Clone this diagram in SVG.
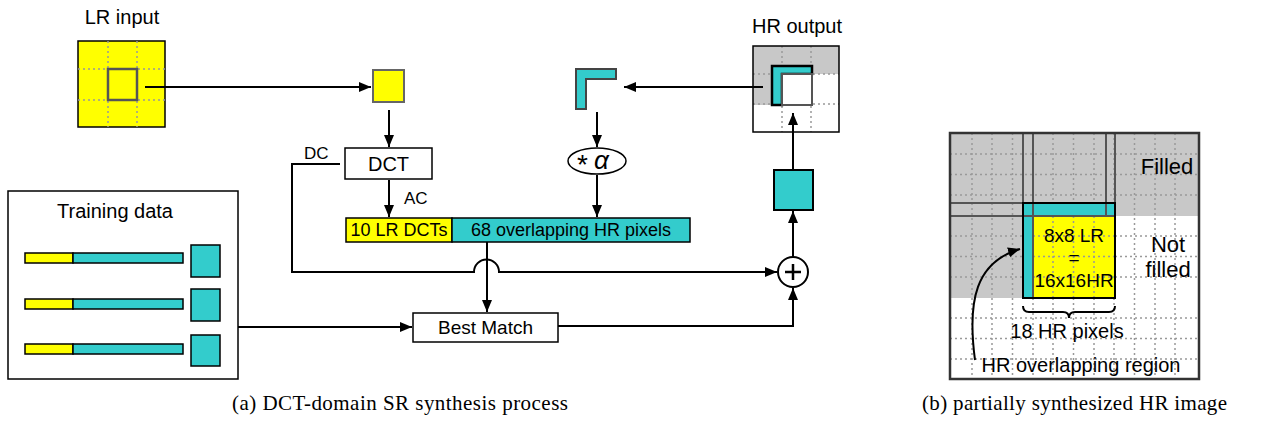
<svg xmlns="http://www.w3.org/2000/svg" width="1264" height="425" viewBox="0 0 1264 425">
<style>
text{font-family:"Liberation Sans",Arial,sans-serif;fill:#000}
.cap{font-family:"Liberation Serif","DejaVu Serif",serif;font-size:21px}
.ln{fill:none;stroke:#000;stroke-width:2}
.dot{fill:none;stroke:#999;stroke-width:1.5;stroke-dasharray:2 3}
.box{fill:#fff;stroke:#000;stroke-width:1.5}
.cy{fill:#33CCCC;stroke:#000;stroke-width:1.5}
.ye{fill:#FFFF00;stroke:#000;stroke-width:1.5}
.gr{fill:#C8C8C8;stroke:none}
.dk{fill:none;stroke:#555;stroke-width:2}
</style>
<defs>
<marker id="ah" viewBox="0 0 12 10" refX="12" refY="5" markerWidth="6" markerHeight="5" orient="auto" markerUnits="strokeWidth">
<path d="M0,0 L12,5 L0,10 z" fill="#000"/>
</marker>
</defs>
<rect width="1264" height="425" fill="#fff"/>

<g id="lr-input">
<text x="122" y="24" font-size="20" text-anchor="middle">LR input</text>
<rect x="78" y="41" width="87" height="86" class="ye"/>
<path class="dot" d="M108,41V127M137,41V127M78,69H167M78,100H167"/>
<rect x="108" y="69" width="29" height="31" fill="none" stroke="#555" stroke-width="2.5"/>
</g>

<g id="lr-block">
<rect x="373" y="70" width="31" height="32" fill="#FFFF00" stroke="#666" stroke-width="2"/>
</g>

<g id="dct">
<rect x="345" y="148" width="87" height="31" class="box"/>
<text x="388.5" y="171" font-size="20" text-anchor="middle">DCT</text>
</g>

<g id="feature-bar">
<rect x="346" y="218" width="106" height="24" class="ye"/>
<rect x="452" y="218" width="238" height="24" class="cy"/>
<text x="399" y="236" font-size="18" text-anchor="middle">10 LR DCTs</text>
<text x="571" y="236" font-size="18" text-anchor="middle">68 overlapping HR pixels</text>
</g>

<g id="overlap-shape">
<path d="M576,69H616V79H586V109H576Z" fill="#33CCCC" stroke="#444" stroke-width="2"/>
</g>

<g id="alpha">
<ellipse cx="597" cy="161" rx="29" ry="13" class="box"/>
<text x="577" y="174" font-size="28" font-family="Liberation Serif,serif">*</text>
<text x="594" y="169" font-size="26" font-style="italic" font-family="Liberation Serif,serif">α</text>
</g>

<g id="hr-output">
<text x="797" y="33" font-size="20" text-anchor="middle">HR output</text>
<rect x="753" y="46" width="86" height="86" fill="#fff"/>
<rect x="753" y="46" width="86" height="28" class="gr"/>
<rect x="753" y="74" width="29" height="31" class="gr"/>
<path class="dot" d="M782,46V132M811,46V132M753,74H839M753,104H839"/>
<rect x="753" y="46" width="86" height="86" fill="none" stroke="#000" stroke-width="1.5"/>
<path d="M772,66H812V74H782V105H772Z" fill="#33CCCC" stroke="#000" stroke-width="2.5"/>
<rect x="782" y="74" width="30" height="31" fill="#fff" stroke="#555" stroke-width="2"/>
</g>

<g id="hr-block">
<rect x="774" y="170" width="39" height="40" fill="#33CCCC" stroke="#000" stroke-width="2"/>
</g>

<g id="plus">
<circle cx="793" cy="272" r="15" fill="#fff" stroke="#000" stroke-width="2"/>
<path d="M785,272H801M793,264V280" stroke="#000" stroke-width="2.5"/>
</g>

<g id="best-match">
<rect x="413" y="313" width="145" height="29" class="box"/>
<text x="485.5" y="334" font-size="19" text-anchor="middle">Best Match</text>
</g>

<g id="training-data">
<rect x="8" y="191" width="230" height="188" class="box"/>
<text x="115" y="218" font-size="20" text-anchor="middle">Training data</text>
<rect x="25" y="253" width="48" height="10" class="ye"/>
<rect x="73" y="253" width="110" height="10" class="cy"/>
<rect x="191" y="245" width="29" height="32" class="cy"/>
<rect x="25" y="299" width="48" height="10" class="ye"/>
<rect x="73" y="299" width="110" height="10" class="cy"/>
<rect x="191" y="289" width="29" height="32" class="cy"/>
<rect x="25" y="344" width="48" height="10" class="ye"/>
<rect x="73" y="344" width="110" height="10" class="cy"/>
<rect x="191" y="335" width="29" height="31" class="cy"/>
</g>

<g id="connectors">
<path class="ln" d="M145,87H371" marker-end="url(#ah)"/>
<path class="ln" d="M389,110V147" marker-end="url(#ah)"/>
<path class="ln" d="M389,180V217" marker-end="url(#ah)"/>
<text x="404" y="204" font-size="17">AC</text>
<path class="ln" d="M340,164H292V272H474A12.5,12.5 0 0 1 499,272H777" marker-end="url(#ah)"/>
<text x="304" y="159" font-size="17">DC</text>
<path class="ln" d="M763,87H624" marker-end="url(#ah)"/>
<path class="ln" d="M597,112V147" marker-end="url(#ah)"/>
<path class="ln" d="M597,175V217" marker-end="url(#ah)"/>
<path class="ln" d="M487,242V312" marker-end="url(#ah)"/>
<path class="ln" d="M238,327H412" marker-end="url(#ah)"/>
<path class="ln" d="M558,326H793V288" marker-end="url(#ah)"/>
<path class="ln" d="M793,257V211" marker-end="url(#ah)"/>
<path class="ln" d="M793,170V113" marker-end="url(#ah)"/>
</g>

<g id="panel-b">
<rect x="950" y="133" width="249" height="246" fill="#fff"/>
<rect x="950" y="133" width="249" height="83" class="gr"/>
<rect x="950" y="216" width="73" height="82" class="gr"/>
<path class="dot" d="M972,133V379M992,133V379M1012.5,133V379M1033,133V379M1053,133V379M1073.5,133V379M1094,133V379M1114,133V379M1134.5,133V379M1155,133V379M1175,133V379M950,154H1199M950,174.5H1199M950,195H1199M950,236H1199M950,256.5H1199M950,277H1199M950,318H1199M950,338.5H1199M950,359H1199"/>
<path d="M1023,203H1115V298H1023Z" fill="#33CCCC"/>
<rect x="1033" y="216" width="82" height="82" fill="#FFFF00"/>
<path class="dot" d="M1053,216V298M1073.5,216V298M1094,216V298M1033,236H1115M1033,256.5H1115M1033,277H1115" stroke="#bbb"/>
<path class="dk" d="M1023,133V203M1033,133V298M1106,133V216M1115,133V203M950,203H1023M950,216H1115"/>
<rect x="1023" y="203" width="92" height="95" fill="none" stroke="#000" stroke-width="2"/>
<rect x="950" y="133" width="249" height="246" fill="none" stroke="#333" stroke-width="2.5"/>
<text x="1167" y="174" font-size="22" text-anchor="middle">Filled</text>
<text x="1168" y="252" font-size="22" text-anchor="middle">Not</text>
<text x="1168" y="277" font-size="22" text-anchor="middle">filled</text>
<text x="1074" y="242" font-size="19" text-anchor="middle">8x8 LR</text>
<text x="1074" y="264" font-size="19" text-anchor="middle">=</text>
<text x="1074" y="287" font-size="19" text-anchor="middle">16x16HR</text>
<path class="ln" d="M1023,306Q1023,312 1029,312H1063Q1069,312 1069,318Q1069,312 1075,312H1109Q1115,312 1115,306"/>
<text x="1067" y="338" font-size="20" text-anchor="middle">18 HR pixels</text>
<text x="1081" y="372" font-size="20" text-anchor="middle">HR overlapping region</text>
<path class="ln" d="M975,360C967,300 976,262 1020,249" marker-end="url(#ah)"/>
</g>

<g id="captions">
<text class="cap" x="400" y="410" text-anchor="middle" textLength="336">(a) DCT-domain SR synthesis process</text>
<text class="cap" x="1074.5" y="410" text-anchor="middle" textLength="305">(b) partially synthesized HR image</text>
</g>
</svg>
